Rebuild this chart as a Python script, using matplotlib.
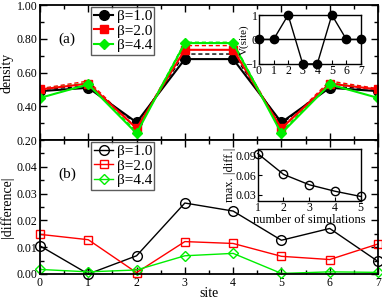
import numpy as np
import matplotlib
matplotlib.use('Agg')
import matplotlib.pyplot as plt
from matplotlib.ticker import MultipleLocator

plt.rcParams['font.family'] = ['Liberation Serif', 'DejaVu Serif']

sites = [0, 1, 2, 3, 4, 5, 6, 7]
labels = ['β=1.0', 'β=2.0', 'β=4.4']
colors = ['black', 'red', '#00ee00']

# density, simulation (solid) and reference (dashed)
dens_b1 = [0.49, 0.51, 0.305, 0.68, 0.68, 0.305, 0.51, 0.49]
dens_b2 = [0.50, 0.535, 0.27, 0.735, 0.735, 0.27, 0.535, 0.50]
dens_b4 = [0.45, 0.53, 0.24, 0.775, 0.775, 0.24, 0.53, 0.45]
ref_b1 = [0.50, 0.52, 0.295, 0.71, 0.71, 0.295, 0.52, 0.50]
ref_b2 = [0.505, 0.55, 0.27, 0.76, 0.76, 0.27, 0.55, 0.505]
ref_b4 = [0.50, 0.54, 0.25, 0.78, 0.78, 0.25, 0.54, 0.50]

# potential
v_site = [0, 0, 1, -1, -1, 1, 0, 0]

# |difference|
diff_b1 = [0.0105, 0.0, 0.0068, 0.0265, 0.0235, 0.0126, 0.0170, 0.0047]
diff_b2 = [0.0148, 0.0128, 0.0005, 0.0121, 0.0114, 0.0066, 0.0054, 0.0112]
diff_b4 = [0.0017, 0.0008, 0.0015, 0.0068, 0.0077, 0.0002, 0.0008, 0.0006]

# inset of (b)
n_sims = [1, 2, 3, 4, 5]
max_diff = [0.093, 0.061, 0.045, 0.035, 0.027]

fig = plt.figure(figsize=(3.82, 3.0), dpi=100)
ax1 = fig.add_axes([0.1047, 0.533, 0.8848, 0.450])
ax2 = fig.add_axes([0.1047, 0.0867, 0.8848, 0.4463])

def style(ax):
    ax.tick_params(which='both', direction='in', top=True, right=True, labelsize=8.5, pad=2)
    ax.tick_params(which='major', length=5, width=1)
    ax.tick_params(which='minor', length=3, width=1)
    for s in ax.spines.values():
        s.set_linewidth(1.3)

def legend(ax):
    leg = ax.legend(loc='upper left', bbox_to_anchor=(0.145, 1.0), fontsize=11,
                    frameon=True, fancybox=False, edgecolor='#333333',
                    handlelength=1.3, handletextpad=0.2, borderpad=0.15,
                    labelspacing=0.05, borderaxespad=0.15)
    leg.get_frame().set_linewidth(1.0)

# top panel
for ref, c in zip([ref_b1, ref_b2, ref_b4], colors):
    ax1.plot(sites, ref, color=c, ls='--', lw=1.0, dashes=(3, 2))
for d, c, lab, m in zip([dens_b1, dens_b2, dens_b4], colors, labels, ['o', 's', 'D']):
    ms = 7 if m == 'o' else (6 if m == 's' else 5.5)
    ax1.plot(sites, d, color=c, marker=m, ms=ms, lw=1.5, label=lab)
ax1.set_xlim(0, 7)
ax1.set_ylim(0.2, 1.0)
ax1.xaxis.set_major_locator(MultipleLocator(1))
ax1.xaxis.set_minor_locator(MultipleLocator(0.5))
ax1.yaxis.set_major_locator(MultipleLocator(0.2))
ax1.yaxis.set_minor_locator(MultipleLocator(0.1))
ax1.yaxis.set_major_formatter(plt.FormatStrFormatter('%.2f'))
ax1.set_xticklabels([])
ax1.set_ylabel('density', fontsize=10, labelpad=2)
style(ax1)
ax1.text(0.055, 0.72, '(a)', transform=ax1.transAxes, fontsize=11)
legend(ax1)

# inset V(site)
axi1 = fig.add_axes([0.678, 0.787, 0.267, 0.163])
axi1.plot(sites, v_site, color='black', marker='o', ms=6, lw=1.0, clip_on=False)
axi1.axhline(0, color='black', lw=1.0)
axi1.set_xlim(0, 7)
axi1.set_ylim(-1, 1)
axi1.set_xticks(sites)
axi1.set_yticks([-1, 0, 1])
axi1.tick_params(direction='in', labelsize=8.5, length=3, pad=1)
axi1.set_ylabel('V(site)', fontsize=8, labelpad=-3)
for s in axi1.spines.values():
    s.set_linewidth(1.0)

# bottom panel
for d, c, lab, m in zip([diff_b1, diff_b2, diff_b4], colors, labels, ['o', 's', 'D']):
    ms = 7 if m == 'o' else (6 if m == 's' else 5.5)
    ax2.plot(sites, d, color=c, marker=m, ms=ms, mfc='none', mew=1.0, lw=1.0,
             label=lab, clip_on=False)
ax2.set_xlim(0, 7)
ax2.set_ylim(0, 0.05)
ax2.xaxis.set_major_locator(MultipleLocator(1))
ax2.xaxis.set_minor_locator(MultipleLocator(0.5))
ax2.yaxis.set_major_formatter(plt.FormatStrFormatter('%.2f'))
ax2.set_yticks([0, 0.01, 0.02, 0.03, 0.04])
ax2.yaxis.set_minor_locator(MultipleLocator(0.005))
ax2.set_xlabel('site', fontsize=10, labelpad=-1)
ax2.set_ylabel('|difference|', fontsize=10, labelpad=2)
style(ax2)
ax2.text(0.055, 0.72, '(b)', transform=ax2.transAxes, fontsize=11)
legend(ax2)

# inset max |diff|
axi2 = fig.add_axes([0.6747, 0.33, 0.2696, 0.1733])
axi2.plot(n_sims, max_diff, color='black', marker='o', ms=6, mfc='none', mew=1.0,
          lw=1.0, clip_on=False)
axi2.set_xlim(1, 5)
axi2.set_ylim(0.02, 0.1)
axi2.set_xticks(n_sims)
axi2.set_yticks([0.03, 0.06, 0.09])
axi2.yaxis.set_major_formatter(plt.FormatStrFormatter('%.2f'))
axi2.tick_params(direction='in', labelsize=8.5, length=3, pad=1)
axi2.set_xlabel('number of simulations', fontsize=9, labelpad=0)
axi2.set_ylabel('max. |diff.|', fontsize=9, labelpad=0)
for s in axi2.spines.values():
    s.set_linewidth(1.0)

fig.savefig('out.png', dpi=100)
